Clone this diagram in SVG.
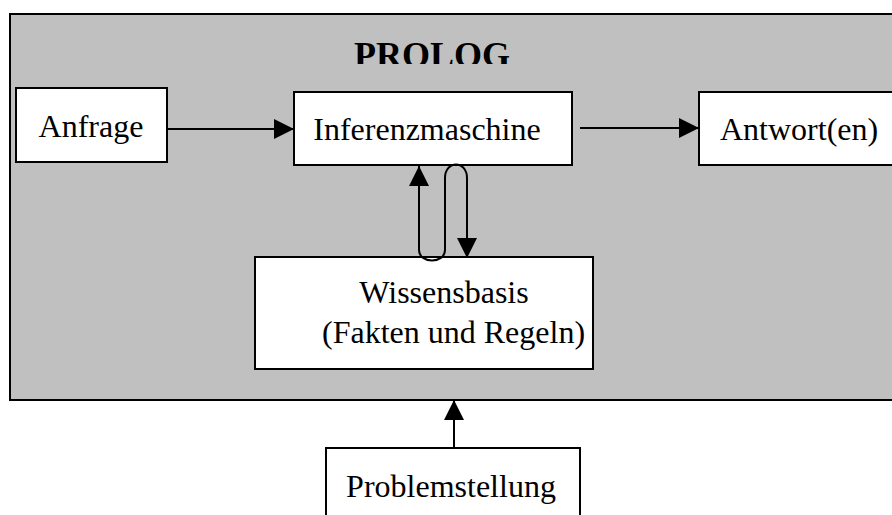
<svg xmlns="http://www.w3.org/2000/svg" width="892" height="515" viewBox="0 0 892 515">
<defs>
<style>
.box{fill:#fff;stroke:#000;stroke-width:2}
.lbl{font-family:"Liberation Serif","Times New Roman",serif;font-size:32px;fill:#000}
.con{fill:none;stroke:#000;stroke-width:2}
</style>
<marker id="ah" markerWidth="20" markerHeight="20" viewBox="0 0 20 20" refX="20" refY="10" orient="auto" markerUnits="userSpaceOnUse">
<path d="M0,0 L20,10 L0,20 Z" fill="#000"/>
</marker>
<clipPath id="pc"><rect x="0" y="0" width="892" height="64"/></clipPath>
</defs>
<rect width="892" height="515" fill="#fff"/>
<g id="prolog">
<rect x="10" y="14" width="900" height="386" fill="#c0c0c0" stroke="#000" stroke-width="2"/>
<text x="354" y="67" clip-path="url(#pc)" font-family="Liberation Serif, Times New Roman, serif" font-size="36" font-weight="bold">PROLOG</text>
</g>
<g id="anfrage">
<rect class="box" x="16" y="88" width="151" height="74"/>
<text class="lbl" x="91" y="137" text-anchor="middle">Anfrage</text>
</g>
<g id="inferenz">
<rect class="box" x="294" y="92" width="278" height="73"/>
<text class="lbl" x="427" y="140" text-anchor="middle">Inferenzmaschine</text>
</g>
<g id="antwort">
<rect class="box" x="699" y="92" width="220" height="73"/>
<text class="lbl" x="720" y="140">Antwort(en)</text>
</g>
<g id="wissensbasis">
<rect class="box" x="255" y="257" width="338" height="112"/>
<text class="lbl" x="444" y="303" text-anchor="middle">Wissensbasis</text>
<text class="lbl" x="322" y="343">(Fakten und Regeln)</text>
</g>
<g id="problemstellung">
<rect class="box" x="326" y="448" width="254" height="100"/>
<text class="lbl" x="451" y="497" text-anchor="middle">Problemstellung</text>
</g>
<g id="connectors">
<line class="con" x1="167" y1="129" x2="294" y2="129" marker-end="url(#ah)"/>
<line class="con" x1="580" y1="128" x2="699" y2="128" marker-end="url(#ah)"/>
<path class="con" d="M419,250 L419,166" marker-end="url(#ah)"/>
<path class="con" d="M419,250 C419,264 445,264 445,250 L445,178 C445,160 467,160 467,178 L467,258" marker-end="url(#ah)"/>
<line class="con" x1="454" y1="448" x2="454" y2="400" marker-end="url(#ah)"/>
</g>
</svg>
